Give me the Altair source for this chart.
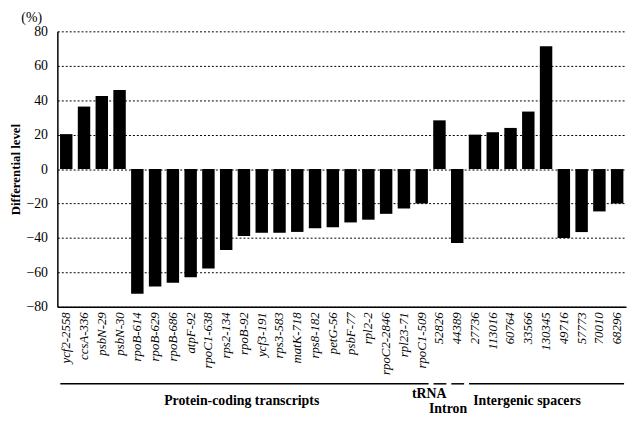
import altair as alt
import pandas as pd

categories = ["ycf2-2558", "ccsA-336", "psbN-29", "psbN-30", "rpoB-614", "rpoB-629",
              "rpoB-686", "atpF-92", "rpoC1-638", "rps2-134", "rpoB-92", "ycf3-191",
              "rps3-583", "matK-718", "rps8-182", "petG-56", "psbF-77", "rpl2-2",
              "rpoC2-2846", "rpl23-71", "rpoC1-509", "52826", "44389", "27736",
              "113016", "60764", "33566", "130345", "49716", "57773", "70010", "68296"]
values = [20.3, 36.3, 42.4, 45.9, -72.4, -68.2, -66.0, -62.9, -57.7, -47.0, -38.9,
          -37.0, -37.0, -36.5, -34.4, -33.8, -31.0, -29.4, -26.0, -22.9, -20.0,
          28.3, -43.0, 20.0, 21.4, 23.9, 33.4, 71.4, -40.0, -36.6, -24.6, -20.0]

group_labels = ["Protein-coding transcripts", "tRNA", "Intron", "Intergenic spacers"]
group_start = ["ycf2-2558", "52826", "44389", "27736"]
group_end = ["rpoC1-509", "52826", "44389", "68296"]
group_anchor = ["rpoB-92", "52826", "44389", "33566"]
label_dy = [403, 396, 412, 403]
label_dx = [4, -4, -3, 5]

bars_df = pd.DataFrame({"cat": categories, "val": values})
groups_df = pd.DataFrame({"label": group_labels, "start": group_start, "end": group_end,
                          "anchor": group_anchor, "ly": label_dy, "dx": label_dx})

PLOT_TOP = 29  # page y of plot top (for converting label positions)
SERIF = "Liberation Serif, Times New Roman, serif"

xscale = alt.Scale(domain=categories, paddingInner=0.3, paddingOuter=0.15)

bars = alt.Chart(bars_df).mark_bar(color="black").encode(
    x=alt.X("cat:N", sort=categories, scale=xscale,
            axis=alt.Axis(title=None, labelAngle=270, labelFontStyle="italic",
                          labelFont=SERIF, labelFontSize=13,
                          labelColor="black", ticks=False, domainColor="black",
                          labelPadding=5, grid=False, domainWidth=1.5)),
    y=alt.Y("val:Q", scale=alt.Scale(domain=[-80, 80], nice=False),
            axis=alt.Axis(title="Differential level", values=list(range(-80, 81, 20)),
                          titleFont=SERIF, titleFontSize=13,
                          titleFontWeight="bold", titleColor="black", titlePadding=3,
                          labelFont=SERIF, labelFontSize=14,
                          labelColor="black", ticks=False, labelPadding=10,
                          grid=True, gridColor="black", gridDash=[2, 2], gridWidth=1,
                          domainColor="black", domainWidth=1.5)),
)

lines = alt.Chart(groups_df).mark_rule(color="black", strokeWidth=1.5,
                                       xOffset=-6, x2Offset=7).encode(
    x=alt.X("start:N", sort=categories, scale=xscale),
    x2="end:N",
    y=alt.value(386 - PLOT_TOP),
)

texts = alt.Chart(groups_df).mark_text(font=SERIF, fontSize=14,
                                       fontWeight="bold", color="black",
                                       baseline="middle").encode(
    x=alt.X("anchor:N", sort=categories, scale=xscale),
    xOffset=alt.XOffset("dx:Q", scale=None),
    y=alt.Y("ly2:Q", scale=None),
    text="label:N",
).transform_calculate(ly2=f"datum.ly - {PLOT_TOP}")

pct = alt.Chart(pd.DataFrame({"t": ["(%)"]})).mark_text(
    font=SERIF, fontSize=14, color="black", align="center", baseline="middle"
).encode(x=alt.value(-26), y=alt.value(-13), text="t:N")

chart = alt.layer(bars, lines, texts, pct).properties(
    width=576, height=279,
    autosize=alt.AutoSizeParams(type="none"),
    padding={"left": 50, "top": 21, "right": 4, "bottom": 111},
).configure_view(stroke=None)

chart.save("out.html", embed_options={"renderer": "svg", "actions": False})
